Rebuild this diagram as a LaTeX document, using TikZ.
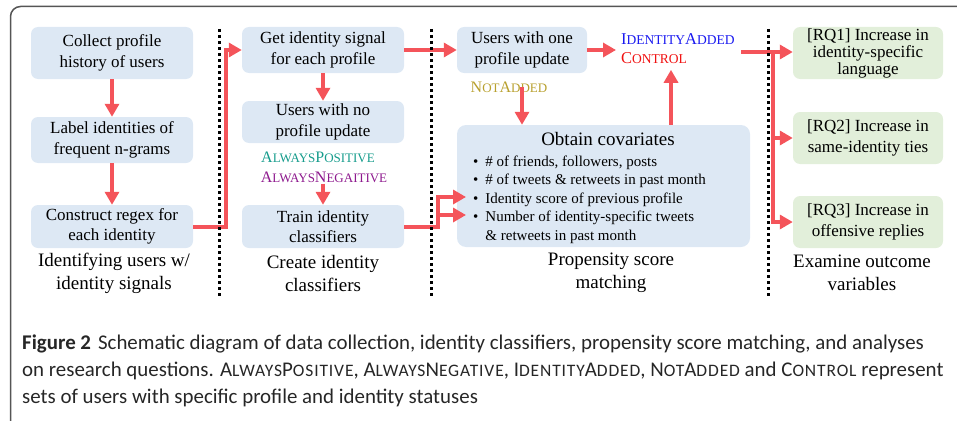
\documentclass[tikz,border=0pt]{standalone}
\usepackage{fontspec}
\setmainfont{Liberation Serif}
\newfontfamily\dfont{Liberation Serif}
\newfontfamily\capfont{Carlito}
\usetikzlibrary{arrows.meta}
\definecolor{boxblue}{HTML}{DDE8F4}
\definecolor{boxgreen}{HTML}{E2EFDA}
\definecolor{arrred}{HTML}{F4545A}
\definecolor{teal1}{HTML}{169C8C}
\definecolor{purp1}{HTML}{8E1A8E}
\definecolor{olive1}{HTML}{B8A02E}
\definecolor{blue1}{HTML}{1A1AF0}
\definecolor{red1}{HTML}{F01010}
\definecolor{framegray}{HTML}{555555}
\newcommand{\dsc}[1]{{\fontsize{13}{14}\selectfont #1}}
\newcommand{\dscb}[1]{{\fontsize{13.5}{14}\selectfont #1}}
\newcommand{\capsc}[1]{{\addfontfeatures{LetterSpace=5}\fontsize{17.5}{18}\selectfont #1}}
\tikzset{
  bbox/.style={fill=boxblue, rounded corners=7pt, inner sep=0pt, align=center,
    font=\dfont\fontsize{17}{20.5}\selectfont},
  gbox/.style={fill=boxgreen, rounded corners=7pt, inner sep=0pt, align=center,
    font=\dfont\fontsize{17}{20.5}\selectfont},
  lbl/.style={inner sep=0pt, align=center, font=\dfont\fontsize{19}{23}\selectfont},
  tag/.style={inner sep=0pt, align=left, font=\dfont\fontsize{16}{19}\selectfont},
  arr/.style={draw=arrred, line width=4pt, -{Triangle[length=13pt,width=14pt]}},
  rline/.style={draw=arrred, line width=4pt},
  sep/.style={draw=black, line width=3pt, dash pattern=on 3pt off 3pt},
  captext/.style={inner sep=0pt, anchor=base west, text=black!85,
    font=\capfont\fontsize{20.9}{24}\selectfont},
}
\begin{document}
\begin{tikzpicture}[x=1pt,y=-1pt]
\useasboundingbox (0,0) rectangle (957,420);
\clip (0,0) rectangle (957,420);
\draw[framegray, line width=1.5pt, rounded corners=10pt] (10.5,6.5) rectangle (990,430);

% column 1
\node[bbox, minimum width=162pt, minimum height=52pt] (b1) at (112,53) {Collect profile\\history of users};
\node[bbox, minimum width=162pt, minimum height=46pt] (b2) at (112,140) {Label identities of\\frequent n-grams};
\node[bbox, minimum width=162pt, minimum height=43pt] (b3) at (112,226.5) {Construct regex for\\each identity};
\node[lbl] (l1) at (114,273) {Identifying users w/\\identity signals};

% column 2
\node[bbox, minimum width=162pt, minimum height=46pt] (b4) at (323,50) {Get identity signal\\for each profile};
\node[bbox, minimum width=162pt, minimum height=42pt] (b5) at (323,122) {Users with no\\profile update};
\node[tag, text=teal1] (pos) at (318,157) {A\dsc{LWAYS}P\dsc{OSITIVE}};
\node[tag, text=purp1] (neg) at (324,177) {A\dsc{LWAYS}N\dsc{EGAITIVE}};
\node[bbox, minimum width=162pt, minimum height=43pt] (b6) at (323,226.5) {Train identity\\classifiers};
\node[lbl] (l2) at (323,273) {Create identity\\classifiers};

% column 3
\node[bbox, minimum width=130pt, minimum height=46pt] (b7) at (522,50) {Users with one\\profile update};
\node[tag, anchor=west, font=\dfont\fontsize{16.5}{19}\selectfont] (ic) at (621,48.5) {\textcolor{blue1}{I\dscb{DENTITY}A\dscb{DDED}}\\\textcolor{red1}{C\dscb{ONTROL}}};
\node[tag, text=olive1] (na) at (509,87) {N\dsc{OT}A\dsc{DDED}};
\node[fill=boxblue, rounded corners=9pt, inner sep=0pt, minimum width=293pt, minimum height=122pt] (cov) at (603.5,186) {};
\node[inner sep=0pt, font=\dfont\fontsize{19}{22}\selectfont] (covt) at (608,139) {Obtain covariates};
\node[inner sep=0pt, anchor=north west, font=\dfont\fontsize{15}{18.5}\selectfont] (covl) at (473,153)
  {\begin{tabular}{@{}l@{\hspace{7pt}}l@{}}
   \textbullet & \# of friends, followers, posts\\
   \textbullet & \# of tweets \& retweets in past month\\
   \textbullet & Identity score of previous profile\\
   \textbullet & Number of identity-specific tweets\\
   & \& retweets in past month
   \end{tabular}};
\node[lbl] (l3) at (611,273) {Propensity score\\matching};

% column 4
\node[gbox, minimum width=150pt, minimum height=52pt, font=\dfont\fontsize{17}{17}\selectfont] (rq1) at (868,53) {[RQ1] Increase in\\identity-specific\\language};
\node[gbox, minimum width=150pt, minimum height=52pt] (rq2) at (868,138) {[RQ2] Increase in\\same-identity ties};
\node[gbox, minimum width=150pt, minimum height=52pt] (rq3) at (868,222) {[RQ3] Increase in\\offensive replies};
\node[lbl] (l4) at (862,273) {Examine outcome\\variables};

% connectors
\draw[arr] (b1) -- (b2);
\draw[arr] (b2) -- (b3);
\draw[arr] (b3.east) -- ++(33,0) |- (b4.west);
\draw[arr] (b4) -- (b5);
\draw[arr] (neg.south -| b6.north) ++(0,1) -- (b6.north);
\draw[arr] (b4.east) -- (b7.west);
\coordinate (split) at (438,226.5);
\coordinate (c1) at (466,197);
\coordinate (c2) at (466,215);
\draw[arr] (b6.east) -- (split) |- (c1);
\draw[arr] (split |- c2) -- (c2);
\draw[arr] (b7.east) -- ([xshift=-5pt]ic.west |- b7.east);
\draw[arr] ([yshift=6pt]na.south -| b7.south) -- (b7.south |- cov.north);
\draw[arr] ([xshift=67.5pt]cov.north) -- ++(0,-55);
\coordinate (br) at (773,52);
\draw[arr] (741,52) -- (rq1.west |- br);
\draw[rline] (br) -- (773,220);
\draw[arr] (br) |- (rq2.west);
\draw[arr] (br) |- (rq3.west);

% separators
\draw[sep] (219,29) -- (219,298);
\draw[sep] (431,29) -- (431,298);
\draw[sep] (768,29) -- (768,298);

% caption
\node[captext] (cap1) at (22,349) {\textbf{Figure 2}\hspace{7pt}Schematic diagram of data collection, identity classifiers, propensity score matching, and analyses};
\node[captext] (cap2) at (22,376) {on research questions. A\capsc{LWAYS}P\capsc{OSITIVE}, A\capsc{LWAYS}N\capsc{EGATIVE}, I\capsc{DENTITY}A\capsc{DDED}, N\capsc{OT}A\capsc{DDED} and C\capsc{ONTROL} represent};
\node[captext] (cap3) at (22,403) {sets of users with specific profile and identity statuses};
\end{tikzpicture}
\end{document}
